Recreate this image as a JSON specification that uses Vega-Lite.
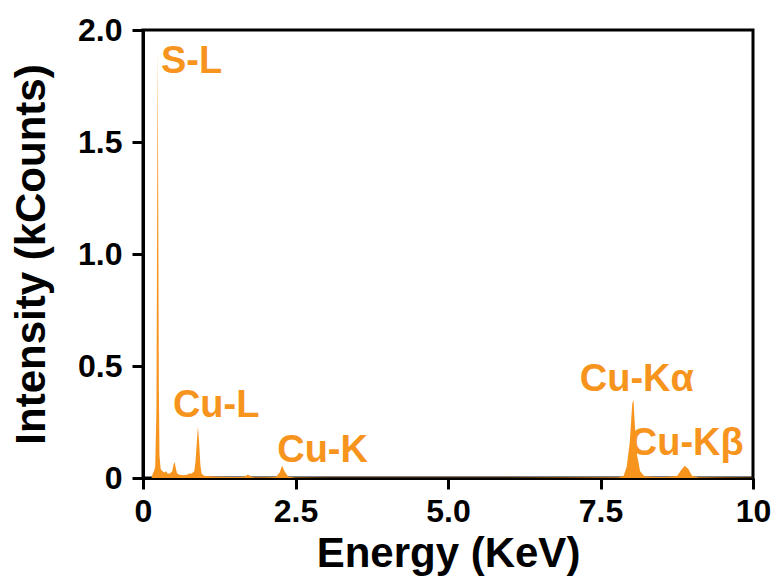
{
  "$schema": "https://vega.github.io/schema/vega-lite/v6.json",
  "width": 610,
  "height": 448,
  "autosize": "none",
  "padding": {"left": 143, "top": 30, "right": 27, "bottom": 106},
  "background": "white",
  "config": {
    "view": {"stroke": "black", "strokeWidth": 3},
    "axis": {
      "grid": false,
      "domainColor": "black",
      "domainWidth": 3,
      "tickColor": "black",
      "tickWidth": 3,
      "tickSize": 11,
      "labelFont": "Liberation Sans",
      "labelFontWeight": "bold",
      "labelFontSize": 32,
      "labelColor": "black",
      "titleFont": "Liberation Sans",
      "titleFontWeight": "bold",
      "titleFontSize": 42,
      "titleColor": "black"
    }
  },
  "layer": [
    {
      "data": {"values": [
        {"E": 0.14, "I": 0}, {"E": 0.16, "I": 0.02}, {"E": 0.18, "I": 0.03}, {"E": 0.2, "I": 0.05},
        {"E": 0.22, "I": 0.3}, {"E": 0.23, "I": 1.0}, {"E": 0.24, "I": 1.92}, {"E": 0.25, "I": 1.2},
        {"E": 0.26, "I": 0.4}, {"E": 0.27, "I": 0.1}, {"E": 0.29, "I": 0.04}, {"E": 0.32, "I": 0.03},
        {"E": 0.35, "I": 0.025}, {"E": 0.38, "I": 0.03}, {"E": 0.4, "I": 0.02}, {"E": 0.44, "I": 0.02},
        {"E": 0.48, "I": 0.03}, {"E": 0.5, "I": 0.06}, {"E": 0.52, "I": 0.07}, {"E": 0.54, "I": 0.04},
        {"E": 0.56, "I": 0.02}, {"E": 0.6, "I": 0.015}, {"E": 0.66, "I": 0.012}, {"E": 0.72, "I": 0.015},
        {"E": 0.76, "I": 0.02}, {"E": 0.8, "I": 0.02}, {"E": 0.84, "I": 0.03}, {"E": 0.86, "I": 0.07},
        {"E": 0.88, "I": 0.15}, {"E": 0.9, "I": 0.23}, {"E": 0.92, "I": 0.16}, {"E": 0.94, "I": 0.06},
        {"E": 0.96, "I": 0.02}, {"E": 1.0, "I": 0.01}, {"E": 1.1, "I": 0.008}, {"E": 1.2, "I": 0.006},
        {"E": 1.4, "I": 0.004}, {"E": 1.6, "I": 0.004}, {"E": 1.68, "I": 0.008}, {"E": 1.72, "I": 0.016},
        {"E": 1.76, "I": 0.008}, {"E": 1.82, "I": 0.003}, {"E": 2.0, "I": 0.003}, {"E": 2.18, "I": 0.005},
        {"E": 2.24, "I": 0.025}, {"E": 2.28, "I": 0.055}, {"E": 2.32, "I": 0.03}, {"E": 2.38, "I": 0.006},
        {"E": 2.5, "I": 0.002}, {"E": 3.0, "I": 0.001}, {"E": 4.0, "I": 0.001}, {"E": 5.0, "I": 0.001},
        {"E": 6.0, "I": 0.001}, {"E": 7.0, "I": 0.002}, {"E": 7.8, "I": 0.003}, {"E": 7.88, "I": 0.01},
        {"E": 7.93, "I": 0.05}, {"E": 7.98, "I": 0.16}, {"E": 8.02, "I": 0.33}, {"E": 8.04, "I": 0.35},
        {"E": 8.06, "I": 0.25}, {"E": 8.1, "I": 0.1}, {"E": 8.15, "I": 0.03}, {"E": 8.22, "I": 0.008},
        {"E": 8.4, "I": 0.004}, {"E": 8.6, "I": 0.004}, {"E": 8.76, "I": 0.01}, {"E": 8.82, "I": 0.035},
        {"E": 8.88, "I": 0.055}, {"E": 8.94, "I": 0.04}, {"E": 9.0, "I": 0.01}, {"E": 9.1, "I": 0.003},
        {"E": 9.5, "I": 0.002}, {"E": 10.0, "I": 0.001}
      ]},
      "mark": {"type": "area", "color": "#F7941D", "clip": true},
      "encoding": {
        "x": {
          "field": "E", "type": "quantitative",
          "scale": {"domain": [0, 10], "nice": false, "zero": false},
          "axis": {
            "title": "Energy (KeV)",
            "values": [0, 2.5, 5, 7.5, 10],
            "labelExpr": "datum.value == 0 ? '0' : datum.value == 10 ? '10' : format(datum.value, '.1f')",
            "labelPadding": 7,
            "titlePadding": 6,
            "labelFlush": false
          }
        },
        "y": {
          "field": "I", "type": "quantitative",
          "scale": {"domain": [0, 2], "nice": false},
          "axis": {
            "title": "Intensity (kCounts)",
            "values": [0, 0.5, 1, 1.5, 2],
            "labelExpr": "datum.value == 0 ? '0' : format(datum.value, '.1f')",
            "labelPadding": 10,
            "titlePadding": 24,
            "labelFlush": false
          }
        }
      }
    },
    {
      "data": {"values": [
        {"E": 0.295, "I": 1.808, "label": "S-L"},
        {"E": 0.49, "I": 0.272, "label": "Cu-L"},
        {"E": 2.2, "I": 0.07, "label": "Cu-K"},
        {"E": 7.16, "I": 0.388, "label": "Cu-Kα"},
        {"E": 7.98, "I": 0.103, "label": "Cu-Kβ"}
      ]},
      "mark": {"type": "text", "align": "left", "baseline": "alphabetic", "font": "Liberation Sans", "fontWeight": "bold", "fontSize": 38, "color": "#F7941D"},
      "encoding": {
        "x": {"field": "E", "type": "quantitative"},
        "y": {"field": "I", "type": "quantitative"},
        "text": {"field": "label"}
      }
    }
  ]
}
